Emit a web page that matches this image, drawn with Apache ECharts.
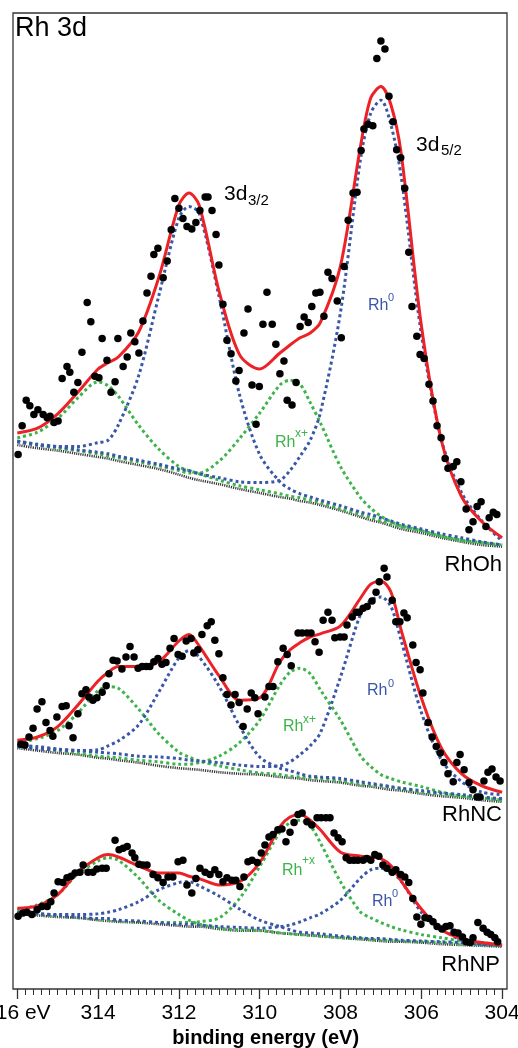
<!DOCTYPE html>
<html>
<head>
<meta charset="utf-8">
<title>Rh 3d</title>
<script src="https://cdn.jsdelivr.net/npm/echarts@6.0.0/dist/echarts.min.js"></script>
<style>
  html, body { margin: 0; padding: 0; background: #fff; }
  #chart { width: 518px; height: 1048px; }
</style>
</head>
<body>
<div id="chart"></div>
<script>
// binding energy grid (eV) shared by the fitted curves
const energy = [316, 315.5, 315, 314.5, 314, 313.75, 313.5, 313, 312.5, 312, 311.75, 311.5, 311, 310.5, 310,
  309.5, 309.25, 309, 308.75, 308.5, 308, 307.5, 307.25, 307, 306.75, 306.5, 306, 305.5, 305, 304.5, 304];
const tickValues = [316, 314, 312, 310, 308, 306, 304];

// RhOh (top, offset) : baseline, Rh0 3d3/2, Rh0 3d5/2, Rhx+ 3d3/2, Rhx+ 3d5/2, envelope
const ohBase = [68.0, 67.6, 67.3, 66.9, 66.5, 66.3, 66.0, 65.5, 65.0, 64.3, 63.9, 63.6, 63.1, 62.5, 62.0, 61.5, 61.3, 61.0, 60.8, 60.5, 59.8, 59.0, 58.6, 58.3, 57.9, 57.5, 57.0, 56.4, 55.9, 55.5, 55.3];
const ohRh0a = [68.4, 68.0, 67.8, 67.8, 68.3, 68.6, 70.5, 76.6, 86.6, 96.4, 97.8, 97.0, 86.4, 74.3, 66.8, 63.4, 62.5, 61.9, 61.5, 61.1, 60.4, 59.6, 59.3, 58.9, 58.5, 58.1, 57.5, 56.9, 56.4, 55.9, 55.5];
const ohRh0b = [68.5, 68.1, 67.8, 67.4, 67.1, 66.9, 66.6, 66.1, 65.6, 65.0, 64.8, 64.4, 63.9, 63.4, 63.3, 63.6, 64.8, 66.6, 68.6, 72.0, 84.6, 103.9, 109.5, 111.1, 108.0, 101.6, 81.9, 68.6, 62.0, 58.5, 56.0];
const ohRhxa = [68.9, 69.6, 71.3, 73.9, 75.9, 75.4, 74.1, 70.5, 67.5, 65.3, 64.8, 64.4, 63.6, 62.9, 62.4, 61.9, 61.6, 61.4, 61.1, 60.8, 60.0, 59.3, 58.9, 58.5, 58.1, 57.8, 57.3, 56.6, 56.1, 55.8, 55.5];
const ohRhxb = [68.4, 68.0, 67.6, 67.3, 66.9, 66.6, 66.4, 65.9, 65.4, 64.8, 64.5, 64.5, 66.0, 68.8, 72.0, 75.5, 76.1, 75.6, 73.3, 70.8, 65.3, 61.4, 60.1, 59.1, 58.4, 57.9, 57.3, 56.6, 56.1, 55.8, 55.5];
const ohFit = [69.5, 70.1, 71.9, 74.6, 77.5, 78.3, 79.0, 82.1, 88.9, 98.0, 99.5, 98.0, 87.1, 79.3, 77.5, 79.5, 80.5, 81.4, 82.0, 83.3, 90.4, 105.5, 111.4, 112.8, 110.5, 104.5, 83.0, 68.5, 61.5, 58.4, 56.4];

// RhNC (middle)
const ncBase = [30.1, 29.8, 29.5, 29.3, 28.9, 28.8, 28.6, 28.3, 27.9, 27.6, 27.5, 27.4, 27.1, 26.9, 26.8, 26.5, 26.4, 26.3, 26.1, 26.0, 25.8, 25.4, 25.3, 25.1, 24.9, 24.8, 24.4, 24.1, 23.9, 23.6, 23.4];
const ncRh0a = [30.3, 30.0, 29.9, 29.8, 29.9, 30.4, 31.0, 33.0, 37.1, 41.4, 42.3, 41.5, 37.8, 32.9, 29.0, 27.6, 27.3, 26.9, 26.6, 26.5, 26.3, 25.9, 25.7, 25.5, 25.3, 25.1, 24.8, 24.5, 24.3, 24.0, 23.8];
const ncRh0b = [30.5, 30.3, 30.0, 29.8, 29.6, 29.5, 29.4, 29.1, 29.0, 28.8, 28.6, 28.5, 28.3, 28.0, 27.8, 27.9, 28.4, 29.3, 30.4, 32.0, 39.0, 46.9, 48.6, 49.0, 47.8, 43.6, 34.6, 28.6, 25.9, 24.6, 24.3];
const ncRhxa = [30.8, 31.3, 32.3, 34.5, 37.3, 37.8, 37.6, 35.0, 31.9, 29.6, 29.0, 28.5, 27.9, 27.4, 27.0, 26.8, 26.6, 26.5, 26.4, 26.3, 26.0, 25.6, 25.5, 25.4, 25.2, 25.0, 24.6, 24.4, 24.1, 23.9, 23.6];
const ncRhxb = [30.4, 30.1, 29.8, 29.5, 29.1, 29.0, 28.9, 28.6, 28.4, 28.1, 28.1, 28.3, 29.1, 30.8, 33.6, 38.0, 39.6, 40.1, 39.4, 37.4, 33.6, 29.1, 27.8, 26.8, 26.3, 25.9, 25.3, 24.6, 24.1, 23.9, 23.6];
const ncFit = [31.1, 31.5, 32.8, 35.5, 38.5, 39.6, 40.3, 40.3, 40.9, 43.5, 44.3, 42.9, 39.1, 36.1, 36.4, 40.9, 42.4, 43.3, 44.0, 44.4, 45.4, 48.9, 50.6, 51.0, 49.6, 44.9, 36.4, 30.1, 26.9, 25.4, 24.6];

// RhNP (bottom)
const npBase = [9.4, 9.2, 9.0, 8.9, 8.6, 8.5, 8.4, 8.3, 8.1, 7.9, 7.8, 7.8, 7.5, 7.3, 7.3, 7.0, 6.9, 6.8, 6.7, 6.6, 6.4, 6.2, 6.1, 6.0, 5.9, 5.9, 5.8, 5.6, 5.5, 5.4, 5.3];
const npRh0a = [9.5, 9.4, 9.3, 9.3, 9.4, 9.6, 9.9, 10.9, 12.4, 13.3, 13.4, 12.9, 11.6, 10.0, 8.6, 7.8, 7.4, 7.1, 7.0, 6.9, 6.6, 6.4, 6.3, 6.3, 6.2, 6.1, 6.0, 5.9, 5.8, 5.6, 5.5];
const npRh0b = [9.6, 9.4, 9.2, 9.0, 8.8, 8.8, 8.6, 8.5, 8.3, 8.1, 8.1, 8.0, 7.8, 7.7, 7.6, 7.8, 8.0, 8.4, 8.9, 9.4, 11.1, 13.9, 14.9, 15.1, 14.6, 13.5, 9.6, 7.5, 6.1, 5.6, 5.4];
const npRhxa = [9.9, 10.5, 11.8, 14.4, 16.0, 16.4, 16.1, 13.9, 11.1, 9.3, 8.6, 8.1, 7.6, 7.4, 7.3, 7.0, 6.9, 6.8, 6.7, 6.6, 6.4, 6.3, 6.2, 6.1, 6.1, 6.0, 5.9, 5.8, 5.6, 5.5, 5.4];
const npRhxb = [9.5, 9.3, 9.1, 8.9, 8.7, 8.6, 8.5, 8.4, 8.3, 8.3, 8.3, 8.4, 8.9, 11.3, 15.3, 19.6, 20.8, 21.1, 20.4, 18.3, 13.4, 9.6, 8.9, 8.3, 7.8, 7.4, 6.8, 6.4, 6.0, 5.8, 5.5];
const npFit = [10.1, 10.4, 11.8, 14.6, 16.4, 16.8, 16.5, 15.4, 14.5, 14.5, 14.1, 13.8, 13.0, 13.4, 15.8, 20.3, 21.5, 21.8, 21.1, 19.9, 17.1, 16.6, 16.5, 16.3, 15.4, 13.5, 10.0, 7.4, 6.3, 5.8, 5.5];

// measured points [binding energy, intensity]
const ohPoints = [[315.98, 66.8], [315.88, 70.4], [315.78, 73.6], [315.69, 72.9], [315.59, 71.8], [315.49, 72.4], [315.36, 71.8], [315.26, 71.4],
  [315.19, 71.6], [315.09, 70.8], [314.99, 71.0], [314.89, 76.3], [314.77, 77.8], [314.70, 77.1], [314.60, 74.6], [314.50, 75.8],
  [314.40, 79.6], [314.27, 85.8], [314.18, 83.4], [314.08, 76.6], [313.98, 76.4], [313.90, 81.3], [313.78, 78.6], [313.68, 74.6],
  [313.58, 75.9], [313.51, 81.3], [313.38, 77.8], [313.28, 79.0], [313.19, 82.0], [313.09, 80.9], [312.99, 79.5], [312.89, 83.5],
  [312.79, 87.0], [312.69, 89.1], [312.62, 91.8], [312.52, 92.6], [312.39, 88.9], [312.29, 91.0], [312.19, 94.9], [312.10, 98.8],
  [312.00, 97.6], [311.90, 96.3], [311.80, 95.3], [311.68, 95.0], [311.58, 95.8], [311.48, 97.3], [311.35, 99.0], [311.28, 99.0],
  [311.18, 97.3], [311.08, 94.3], [311.01, 90.5], [310.91, 85.6], [310.81, 81.1], [310.71, 79.4], [310.59, 76.0], [310.51, 77.3],
  [310.39, 82.0], [310.29, 85.0], [310.19, 75.5], [310.09, 70.6], [310.01, 75.3], [309.92, 83.1], [309.82, 87.1], [309.69, 83.1],
  [309.60, 80.6], [309.50, 76.9], [309.40, 78.5], [309.32, 73.6], [309.20, 73.0], [309.10, 75.8], [309.00, 82.8], [308.90, 84.0],
  [308.80, 83.3], [308.71, 85.3], [308.61, 87.0], [308.51, 87.1], [308.41, 84.1], [308.31, 89.6], [308.21, 88.8], [308.08, 86.0],
  [307.98, 81.4], [307.91, 90.3], [307.81, 96.1], [307.69, 99.5], [307.59, 99.6], [307.49, 104.8], [307.42, 107.5], [307.32, 108.1],
  [307.20, 107.9], [307.10, 116.3], [307.00, 118.5], [306.90, 117.5], [306.80, 111.6], [306.70, 108.4], [306.61, 104.9], [306.51, 103.9],
  [306.41, 100.1], [306.31, 92.1], [306.23, 85.3], [306.11, 81.6], [306.03, 79.3], [305.93, 78.8], [305.81, 75.6], [305.71, 73.5],
  [305.61, 70.4], [305.51, 68.9], [305.41, 66.3], [305.34, 65.1], [305.21, 65.3], [305.12, 65.9], [305.02, 63.4], [304.89, 60.0],
  [304.82, 57.4], [304.72, 58.4], [304.62, 60.3], [304.52, 60.9], [304.40, 57.8], [304.32, 58.9], [304.22, 59.6], [304.13, 59.3]];

const ncPoints = [[315.91, 30.6], [315.81, 30.5], [315.71, 31.5], [315.61, 32.6], [315.51, 35.0], [315.39, 35.9], [315.29, 33.3], [315.19, 32.3],
  [315.12, 31.6], [315.02, 34.0], [314.89, 35.3], [314.79, 35.4], [314.72, 32.9], [314.62, 31.4], [314.50, 34.4], [314.40, 36.9],
  [314.30, 37.4], [314.23, 36.5], [314.13, 36.1], [314.03, 36.4], [313.90, 37.1], [313.80, 37.9], [313.73, 39.4], [313.63, 41.1],
  [313.53, 41.0], [313.41, 40.0], [313.31, 41.5], [313.21, 42.8], [313.11, 41.5], [313.01, 40.1], [312.91, 40.3], [312.81, 40.3],
  [312.72, 40.3], [312.62, 40.9], [312.52, 41.3], [312.42, 40.6], [312.32, 40.8], [312.22, 42.6], [312.12, 43.8], [312.02, 41.8],
  [311.92, 41.6], [311.82, 43.5], [311.70, 43.8], [311.63, 42.0], [311.53, 42.4], [311.43, 44.3], [311.30, 45.4], [311.20, 45.9],
  [311.11, 43.6], [311.01, 41.9], [310.91, 38.9], [310.81, 36.8], [310.71, 35.5], [310.61, 36.8], [310.51, 35.8], [310.41, 32.8],
  [310.31, 35.0], [310.21, 37.0], [310.12, 36.4], [310.04, 34.4], [309.87, 36.5], [309.77, 37.8], [309.67, 37.8], [309.55, 40.9],
  [309.42, 42.6], [309.32, 41.8], [309.22, 40.4], [309.05, 44.5], [308.95, 44.5], [308.83, 44.5], [308.73, 44.5], [308.63, 43.4],
  [308.53, 42.1], [308.43, 46.1], [308.31, 47.1], [308.21, 46.1], [308.14, 43.9], [308.01, 44.0], [307.91, 44.0], [307.84, 45.5],
  [307.71, 46.5], [307.61, 47.1], [307.54, 47.1], [307.44, 47.6], [307.34, 47.8], [307.22, 48.5], [307.12, 49.6], [307.04, 50.9],
  [306.92, 52.6], [306.85, 51.5], [306.72, 48.6], [306.63, 45.9], [306.53, 45.9], [306.43, 47.0], [306.35, 46.4], [306.21, 43.0],
  [306.13, 40.8], [306.03, 39.9], [305.96, 37.0], [305.83, 33.3], [305.73, 31.5], [305.63, 30.3], [305.53, 29.5], [305.44, 28.3],
  [305.34, 26.9], [305.21, 25.9], [305.12, 28.3], [305.04, 29.3], [304.94, 27.4], [304.82, 25.8], [304.72, 24.9], [304.62, 24.0],
  [304.55, 24.0], [304.45, 26.0], [304.35, 27.1], [304.25, 27.5], [304.15, 26.5], [304.05, 26.0]];

const npPoints = [[315.98, 9.1], [315.86, 9.5], [315.76, 9.6], [315.64, 9.3], [315.51, 9.9], [315.39, 10.3], [315.26, 10.3], [315.17, 10.9],
  [315.09, 12.0], [314.99, 13.4], [314.87, 13.3], [314.77, 13.9], [314.67, 14.1], [314.57, 14.5], [314.45, 14.6], [314.37, 15.5],
  [314.25, 14.6], [314.13, 14.6], [314.03, 15.0], [313.90, 15.1], [313.80, 15.1], [313.58, 18.6], [313.48, 17.4], [313.38, 17.6],
  [313.28, 17.8], [313.16, 17.0], [313.09, 16.4], [312.99, 15.6], [312.89, 15.5], [312.79, 15.5], [312.64, 14.3], [312.52, 13.9],
  [312.39, 13.3], [312.27, 14.0], [312.15, 14.0], [312.02, 15.9], [311.90, 16.1], [311.80, 13.0], [311.68, 12.0], [311.58, 13.8],
  [311.48, 15.1], [311.35, 14.6], [311.23, 14.3], [311.11, 14.9], [311.01, 14.3], [310.91, 13.4], [310.81, 13.9], [310.69, 13.6],
  [310.59, 13.6], [310.49, 12.8], [310.39, 14.0], [310.29, 15.9], [310.19, 16.1], [310.06, 15.8], [309.96, 17.0], [309.87, 18.0],
  [309.77, 19.0], [309.67, 19.3], [309.55, 19.9], [309.45, 20.0], [309.35, 18.4], [309.25, 19.6], [309.15, 20.8], [309.05, 21.8],
  [308.95, 22.0], [308.83, 20.9], [308.71, 20.5], [308.58, 21.4], [308.48, 21.4], [308.36, 21.4], [308.26, 21.4], [308.16, 19.5],
  [308.06, 18.9], [307.96, 18.4], [307.86, 16.4], [307.77, 16.1], [307.67, 16.1], [307.57, 16.1], [307.44, 16.1], [307.35, 16.3],
  [307.25, 16.1], [307.15, 16.8], [307.05, 16.6], [306.95, 15.5], [306.85, 15.1], [306.72, 14.6], [306.63, 14.9], [306.51, 14.3],
  [306.41, 14.0], [306.31, 13.3], [306.21, 11.3], [306.11, 9.0], [306.01, 8.1], [305.91, 8.9], [305.81, 8.8], [305.71, 8.4],
  [305.61, 7.8], [305.49, 7.5], [305.39, 7.8], [305.29, 7.9], [305.19, 7.1], [305.09, 7.0], [304.98, 6.5], [304.89, 5.9],
  [304.79, 5.8], [304.72, 6.4], [304.60, 8.3], [304.47, 7.6], [304.37, 7.1], [304.28, 6.8], [304.18, 6.4], [304.11, 5.9]];

const RED = '#ec2227';
const BLUE = '#3a56a8';
const GREEN = '#3cb44a';
const FONT = 'Liberation Sans, Arial, Helvetica, sans-serif';

function curve(values, color, width, dash, z) {
  return {
    type: 'line',
    data: energy.map((e, i) => [e, values[i]]),
    smooth: 0.3,
    showSymbol: false,
    silent: true,
    z: z,
    lineStyle: { color: color, width: width, type: dash, cap: 'butt' }
  };
}

function dots(points) {
  return {
    type: 'scatter',
    data: points,
    symbolSize: 7.5,
    silent: true,
    z: 6,
    itemStyle: { color: '#000', opacity: 1 }
  };
}

const series = [];
[
  [ohBase, ohRhxa, ohRhxb, ohRh0a, ohRh0b, ohFit, ohPoints],
  [ncBase, ncRhxa, ncRhxb, ncRh0a, ncRh0b, ncFit, ncPoints],
  [npBase, npRhxa, npRhxb, npRh0a, npRh0b, npFit, npPoints]
].forEach(function (s) {
  series.push(curve(s[0], '#3a3a3a', 2.6, [1.2, 1], 2));
  series.push(curve(s[1], GREEN, 3, [3, 3], 3));
  series.push(curve(s[2], GREEN, 3, [3, 3], 3));
  series.push(curve(s[3], BLUE, 3, [3, 3], 4));
  series.push(curve(s[4], BLUE, 3, [3, 3], 4));
  series.push(curve(s[5], RED, 3, 'solid', 5));
  series.push(dots(s[6]));
});

function txt(text, x, y, size, color, align) {
  return {
    type: 'text', x: x, y: y, silent: true, z: 50,
    style: { text: text, fontSize: size, fontFamily: FONT, fill: color || '#000',
      align: align || 'left', verticalAlign: 'middle' }
  };
}

const chart = echarts.init(document.getElementById('chart'), null, { renderer: 'canvas' });
chart.setOption({
  animation: false,
  backgroundColor: '#fff',
  grid: { left: 17.3, right: 15.9, top: 13, bottom: 59, containLabel: false, outerBoundsMode: 'none' },
  xAxis: {
    type: 'value',
    inverse: true,
    min: 304,
    max: 316,
    interval: 2,
    axisLine: { show: false },
    splitLine: { show: false },
    axisTick: { show: true, length: 10, lineStyle: { color: '#333', width: 1.3 } },
    minorTick: { show: true, splitNumber: 10, length: 6, lineStyle: { color: '#333', width: 1 } },
    axisLabel: {
      fontSize: 21, color: '#000', margin: 14, fontFamily: FONT,
      formatter: function (v) { return tickValues.indexOf(v) === 0 ? v + ' eV' : String(v); }
    },
    name: 'binding energy (eV)',
    nameLocation: 'middle',
    nameGap: 39,
    nameTextStyle: { fontSize: 20, fontWeight: 'bold', color: '#000', fontFamily: FONT, padding: [0, 0, 0, 12] }
  },
  yAxis: { type: 'value', min: 0, max: 122, show: false },
  series: series,
  graphic: [
    { type: 'rect', silent: true, z: 40, shape: { x: 13, y: 13, width: 494, height: 976 },
      style: { fill: null, stroke: '#333', lineWidth: 1.3 } },
    txt('Rh 3d', 15, 29, 27),
    txt('3d', 224, 194, 21), txt('3/2', 248, 201, 15),
    txt('3d', 416, 145, 21), txt('5/2', 441, 151, 15),
    txt('Rh', 368, 306, 16, BLUE), txt('0', 388, 298, 11, BLUE),
    txt('Rh', 275, 443, 16, GREEN), txt('x+', 295, 434, 12, GREEN),
    txt('RhOh', 502, 565, 22, '#000', 'right'),
    txt('Rh', 367, 691, 16, BLUE), txt('0', 388, 684, 11, BLUE),
    txt('Rh', 283, 727, 16, GREEN), txt('x+', 303, 720, 12, GREEN),
    txt('RhNC', 502, 815, 22, '#000', 'right'),
    txt('Rh', 282, 871, 16, GREEN), txt('+x', 302, 861, 12, GREEN),
    txt('Rh', 372, 902, 16, BLUE), txt('0', 392, 894, 11, BLUE),
    txt('RhNP', 500, 965, 22, '#000', 'right')
  ]
});
</script>
</body>
</html>
